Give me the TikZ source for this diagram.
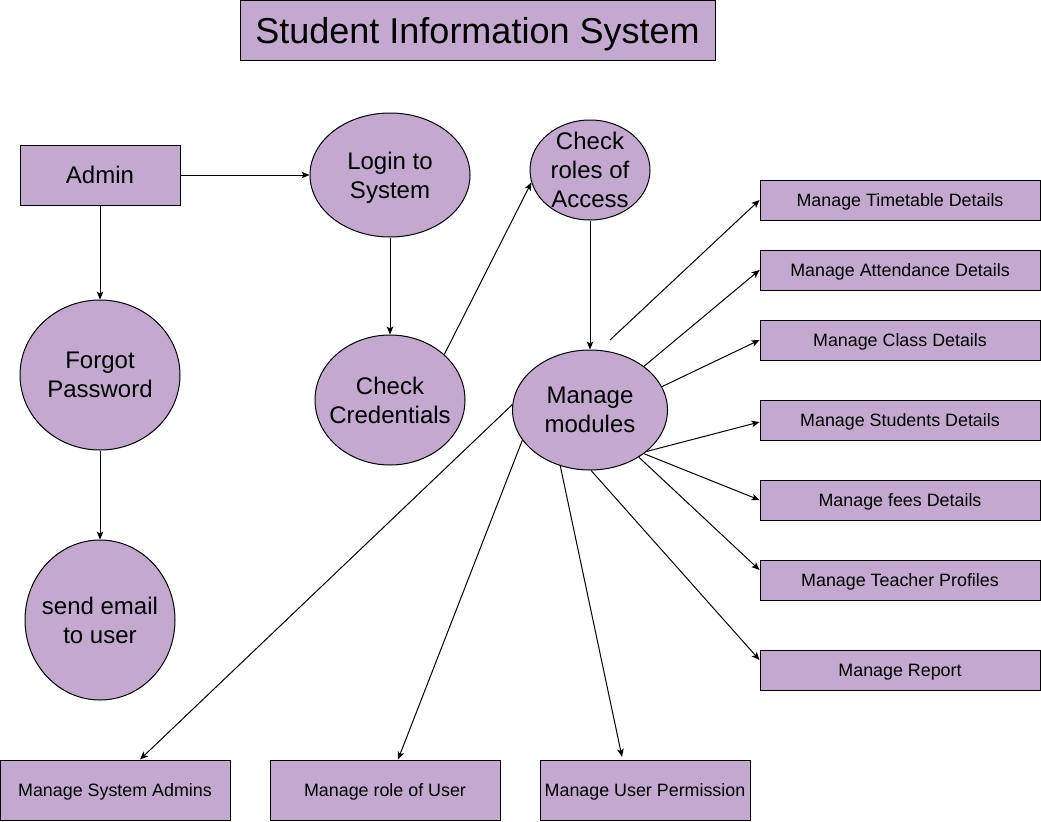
\documentclass[tikz,border=0pt]{standalone}
\usepackage{fontspec}
\setmainfont{Liberation Sans}
\usetikzlibrary{shapes.geometric,arrows.meta}
\definecolor{lav}{RGB}{195,169,207}
\begin{document}
\begin{tikzpicture}[x=0.75pt,y=-0.75pt,
  shape base/.style={draw=black,fill=lav,line width=0.75pt,inner sep=0pt,align=center,text depth=0pt},
  rbox/.style={shape base,rectangle},
  oval/.style={shape base,ellipse,inner sep=-20pt,font=\fontsize{18}{21.75}\selectfont},
  big/.style={font=\fontsize{18}{21.75}\selectfont},
  small/.style={font=\fontsize{13.4}{16}\selectfont},
  arr/.style={line width=0.75pt,-{Stealth[length=6pt,width=5pt,inset=1.5pt]}}]
\useasboundingbox (0,0) rectangle (1041,821);

% title
\node[rbox,minimum width=475*0.75pt,minimum height=60*0.75pt,font=\fontsize{27}{32}\selectfont] (title) at (477.5,30) {Student Information System};

% login path
\node[rbox,big,minimum width=160*0.75pt,minimum height=60*0.75pt] (admin) at (100,175) {Admin};
\node[oval,minimum width=160*0.75pt,minimum height=124*0.75pt] (login) at (390,175) {Login to\\System};
\node[oval,minimum width=120*0.75pt,minimum height=100*0.75pt] (roles) at (590,170) {Check\\roles of\\Access};
\node[oval,minimum width=160*0.75pt,minimum height=150*0.75pt] (forgot) at (100,375) {Forgot\\Password};
\node[oval,minimum width=150*0.75pt,minimum height=160*0.75pt] (email) at (100,620) {send email\\to user};
\node[oval,minimum width=150*0.75pt,minimum height=130*0.75pt] (cred) at (390,400) {Check\\Credentials};
\node[oval,minimum width=155*0.75pt,minimum height=120*0.75pt] (mods) at (590,410) {Manage\\modules};

% module boxes on the right
\tikzset{rmod/.style={rbox,small,minimum width=280*0.75pt,minimum height=40*0.75pt}}
\node[rmod] (tt)  at (900,200) {Manage Timetable Details};
\node[rmod] (att) at (900,270) {Manage Attendance Details};
\node[rmod] (cls) at (900,340) {Manage Class Details};
\node[rmod] (stu) at (900,420) {Manage Students Details};
\node[rmod] (fee) at (900,500) {Manage fees Details};
\node[rmod] (tch) at (900,580) {Manage Teacher Profiles};
\node[rmod] (rep) at (900,670) {Manage Report};

% module boxes at the bottom
\tikzset{bmod/.style={rbox,small,minimum height=60*0.75pt}}
\node[bmod,minimum width=230*0.75pt] (sadm) at (115,790) {Manage System Admins};
\node[bmod,minimum width=230*0.75pt] (rusr) at (385,790) {Manage role of User};
\node[bmod,minimum width=210*0.75pt] (perm) at (645,790) {Manage User Permission};

% connectors
\draw[arr] (admin.east) -- (login.west);
\draw[arr] (admin.south) -- (forgot.north);
\draw[arr] (forgot.south) -- (email.north);
\draw[arr] (login.south) -- (cred.north);
\draw[arr] (cred.40.5) -- (roles.192.8);
\draw[arr] (roles.south) -- (mods.north);

\coordinate (ttstart) at (610,340);
\draw[arr] (ttstart) -- (tt.west);
\draw[arr] (mods.39.3) -- (att.west);
\draw[arr] (mods.18.9) -- (cls.west);
\draw[arr] (mods.-36.4) -- ([yshift=-1.5pt]stu.west);
\draw[arr] (mods.-39.3) -- (fee.west);
\draw[arr] (mods.-44.4) -- ([yshift=7.5pt]tch.west);
\draw[arr] (mods.-89) -- ([yshift=7.5pt]rep.west);

\draw[arr] (mods.176.3) -- ([xshift=18.75pt]sadm.north);
\draw[arr] (mods.204.5) -- ([xshift=9.75pt]rusr.north);
\draw[arr] (mods.242.2) -- ([xshift=-17.25pt,yshift=2pt]perm.north);
\end{tikzpicture}
\end{document}
